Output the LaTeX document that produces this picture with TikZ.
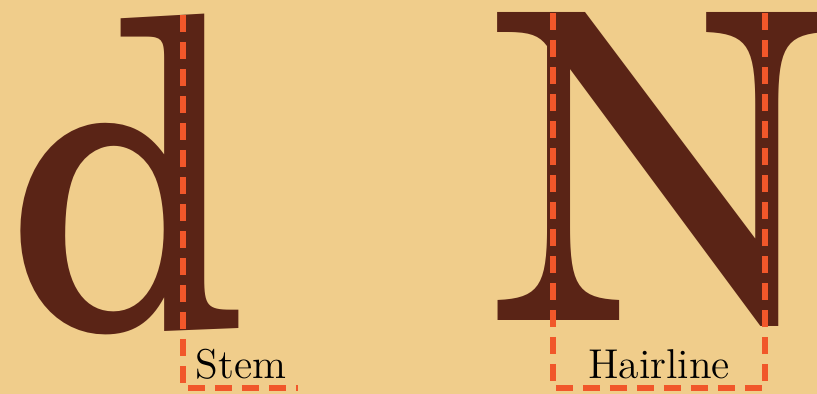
\documentclass[tikz,border=0pt]{standalone}
\usepackage{tikz}
\usetikzlibrary{positioning}
\usepackage{xcolor}
\usepackage{fontspec}
\newfontfamily\specimen{TeX Gyre Schola}

\definecolor{paper}{RGB}{240,205,139}
\definecolor{ink}{RGB}{90,36,22}
\definecolor{guide}{RGB}{241,87,42}

\tikzset{
  glyph/.style={inner sep=0pt, anchor=base west, text=ink,
    font=\specimen\fontsize{128}{128}\selectfont},
  guideline/.style={draw=guide, line width=1.65pt, dash pattern=on 5.1pt off 3pt},
  partname/.style={inner sep=1pt, anchor=base, font=\fontsize{12.5}{15}\selectfont}
}

\begin{document}
\begin{tikzpicture}[x=0.3pt, y=-0.3pt]
  \fill[paper] (0,0) rectangle (817,394);
  \useasboundingbox (0,0) rectangle (817,394);
  \clip (0,0) rectangle (817,394);
  \node[glyph] (lettd) at (2,328) {d};
  \node[glyph] (lettN) at (489,321) {N};
  % stem of the d
  \coordinate (stemtop) at (183,15);
  \coordinate (stembot) at (183,388);
  \coordinate (stemend) at (298,388);
  \draw[guideline] (stemtop) -- (stembot) -- (stemend);
  \node[partname] (stemlab) at (241,378) {Stem};
  % the two thin stems of the N
  \coordinate (hairAtop) at (553,13);
  \coordinate (hairAbot) at (553,388);
  \coordinate (hairBtop) at (765,13);
  \coordinate (hairBbot) at (765,388);
  \draw[guideline] (hairAtop) -- (hairAbot) -- (hairBbot) -- (hairBtop);
  \node[partname] (hairlab) at (659,378) {Hairline};
\end{tikzpicture}
\end{document}
